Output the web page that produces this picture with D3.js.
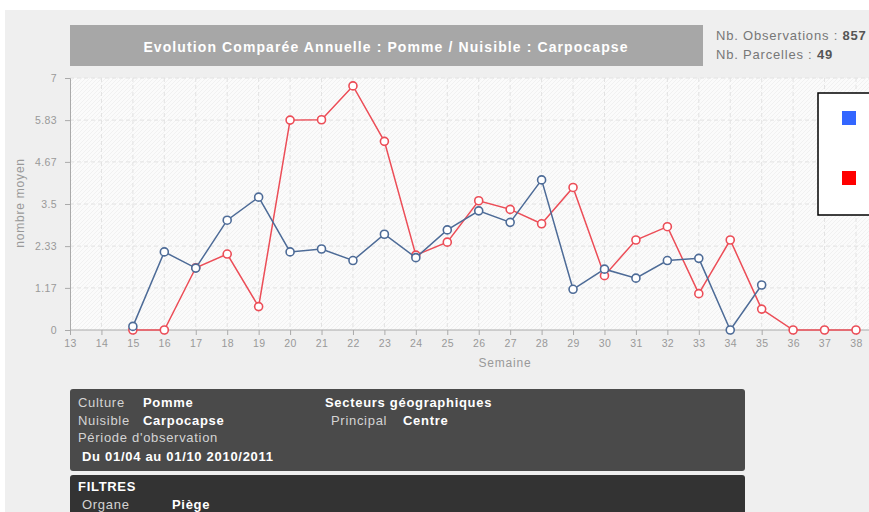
<!DOCTYPE html>
<html lang="en">
<head>
	<meta charset="UTF-8">
	<title>Evolution Comparée Annuelle</title>
	<style>
		body { margin: 0; background: #fff; }
		svg { display: block; font-family: "Liberation Sans", Arial, sans-serif; }
	</style>
</head>
<body>
	<svg id="chart" width="869" height="512"></svg>
	<script type="text/javascript" src="https://cdn.jsdelivr.net/npm/d3@7/dist/d3.min.js"></script>
	<script type="text/javascript">
		// data
		var weeks = [13,14,15,16,17,18,19,20,21,22,23,24,25,26,27,28,29,30,31,32,33,34,35,36,37,38];
		var yTicks = [0, 1.17, 2.33, 3.5, 4.67, 5.83, 7];
		var blueWeeks = [15,16,17,18,19,20,21,22,23,24,25,26,27,28,29,30,31,32,33,34,35];
		var blueValues = [0.1,2.17,1.72,3.05,3.69,2.17,2.25,1.93,2.66,2.01,2.78,3.31,2.99,4.17,1.13,1.69,1.44,1.93,1.99,0,1.25];
		var redWeeks = [15,16,17,18,19,20,21,22,23,24,25,26,27,28,29,30,31,32,33,34,35,36,37,38];
		var redValues = [0,0,1.73,2.11,0.65,5.83,5.84,6.78,5.24,2.08,2.44,3.59,3.35,2.95,3.96,1.51,2.5,2.87,1.01,2.5,0.58,0,0,0];

		var svg = d3.select("#chart");

		// gray page panel
		svg.append("rect").attr("x", 5).attr("y", 10).attr("width", 864).attr("height", 502).attr("fill", "#efefef");

		// title box
		svg.append("rect").attr("x", 70).attr("y", 25).attr("width", 633).attr("height", 41).attr("fill", "#a7a7a7");
		svg.append("text").attr("x", 386).attr("y", 52).attr("text-anchor", "middle")
			.attr("fill", "#fff").attr("font-weight", "bold").attr("font-size", 14).attr("letter-spacing", 1.1)
			.text("Evolution Comparée Annuelle : Pomme / Nuisible : Carpocapse");

		var stats = svg.append("g").attr("font-size", 13).attr("fill", "#777").attr("letter-spacing", 0.8);
		var t1 = stats.append("text").attr("x", 716).attr("y", 40);
		t1.append("tspan").text("Nb. Observations : ");
		t1.append("tspan").attr("font-weight", "bold").attr("fill", "#555").text("857");
		var t2 = stats.append("text").attr("x", 716).attr("y", 59);
		t2.append("tspan").text("Nb. Parcelles : ");
		t2.append("tspan").attr("font-weight", "bold").attr("fill", "#555").text("49");

		// scales
		var x = d3.scaleLinear().domain([13, 38]).range([70, 856]);
		var y = d3.scaleLinear().domain([0, 7]).range([330, 78]);

		// plot background with light hatch
		var defs = svg.append("defs");
		var pat = defs.append("pattern").attr("id", "hatch").attr("patternUnits", "userSpaceOnUse")
			.attr("width", 4).attr("height", 4);
		pat.append("rect").attr("width", 4).attr("height", 4).attr("fill", "#fbfbfb");
		pat.append("path").attr("d", "M0,4 L4,0").attr("stroke", "#f1f1f1").attr("stroke-width", 1);
		svg.append("rect").attr("x", 70).attr("y", 78).attr("width", 799).attr("height", 252).attr("fill", "url(#hatch)");

		// grid lines
		svg.append("g").selectAll("line").data(weeks.slice(1)).enter().append("line")
			.attr("x1", function(d) { return x(d); }).attr("x2", function(d) { return x(d); })
			.attr("y1", 78).attr("y2", 330)
			.attr("stroke", "#e2e2e2").attr("stroke-dasharray", "4,3");
		svg.append("g").selectAll("line").data(yTicks.slice(1)).enter().append("line")
			.attr("x1", 70).attr("x2", 869)
			.attr("y1", function(d) { return y(d); }).attr("y2", function(d) { return y(d); })
			.attr("stroke", "#e2e2e2").attr("stroke-dasharray", "4,3");

		// axes
		var yAxis = svg.append("g").attr("transform", "translate(70,0)")
			.call(d3.axisLeft(y).tickValues(yTicks).tickSize(5).tickPadding(8).tickFormat(function(d) { return d; }));
		var xAxis = svg.append("g").attr("transform", "translate(0,330)")
			.call(d3.axisBottom(x).tickValues(weeks).tickSize(5).tickPadding(5).tickFormat(d3.format("d")));
		[yAxis, xAxis].forEach(function(a) {
			a.select(".domain").attr("stroke", "#aaa");
			a.selectAll(".tick line").attr("stroke", "#aaa");
			a.selectAll(".tick text").attr("fill", "#999").attr("font-size", 10.5).attr("letter-spacing", 0.4)
				.attr("font-family", "\"Liberation Sans\", sans-serif");
		});
		xAxis.select(".domain").attr("d", "M70,0H869");

		svg.append("text").attr("x", 505).attr("y", 367).attr("text-anchor", "middle")
			.attr("fill", "#999").attr("font-size", 12).attr("letter-spacing", 0.8).text("Semaine");
		svg.append("text").attr("transform", "translate(24,203) rotate(-90)").attr("text-anchor", "middle")
			.attr("fill", "#999").attr("font-size", 12).attr("letter-spacing", 0.8).text("nombre moyen");

		// series
		var line = d3.line().x(function(d) { return x(d[0]); }).y(function(d) { return y(d[1]); });
		function drawSeries(ws, vs, color) {
			var pts = ws.map(function(w, i) { return [w, vs[i]]; });
			svg.append("path").datum(pts).attr("d", line)
				.attr("fill", "none").attr("stroke", color).attr("stroke-width", 1.5);
			svg.append("g").selectAll("circle").data(pts).enter().append("circle")
				.attr("cx", function(d) { return x(d[0]); })
				.attr("cy", function(d) { return y(d[1]); })
				.attr("r", 4).attr("fill", "#fff").attr("stroke", color).attr("stroke-width", 1.6);
		}
		drawSeries(redWeeks, redValues, "#ec4d57");
		drawSeries(blueWeeks, blueValues, "#4d6b97");

		// legend
		svg.append("rect").attr("x", 818).attr("y", 93).attr("width", 60).attr("height", 122)
			.attr("fill", "#fff").attr("stroke", "#000").attr("stroke-width", 1.5);
		svg.append("rect").attr("x", 842).attr("y", 111).attr("width", 14).attr("height", 14).attr("fill", "#3366ff");
		svg.append("rect").attr("x", 842).attr("y", 171).attr("width", 14).attr("height", 14).attr("fill", "#ff0000");

		// info panels
		svg.append("rect").attr("x", 70).attr("y", 389).attr("width", 675).attr("height", 82).attr("rx", 3).attr("fill", "#4a4a4a");
		svg.append("rect").attr("x", 70).attr("y", 475).attr("width", 675).attr("height", 45).attr("rx", 3).attr("fill", "#333");

		var info = svg.append("g").attr("font-size", 13).attr("letter-spacing", 0.7);
		function label(xp, yp, txt, bold) {
			info.append("text").attr("x", xp).attr("y", yp).text(txt)
				.attr("fill", bold ? "#fff" : "#d4d4d4").attr("font-weight", bold ? "bold" : "normal");
		}
		label(78, 407, "Culture", false);
		label(143, 407, "Pomme", true);
		label(78, 425, "Nuisible", false);
		label(143, 425, "Carpocapse", true);
		label(78, 442, "Période d'observation", false);
		label(82, 461, "Du 01/04 au 01/10 2010/2011", true);
		label(325, 407, "Secteurs géographiques", true);
		label(331, 425, "Principal", false);
		label(403, 425, "Centre", true);
		label(78, 491, "FILTRES", true);
		label(82, 509, "Organe", false);
		label(172, 509, "Piège", true);
	</script>
</body>
</html>
